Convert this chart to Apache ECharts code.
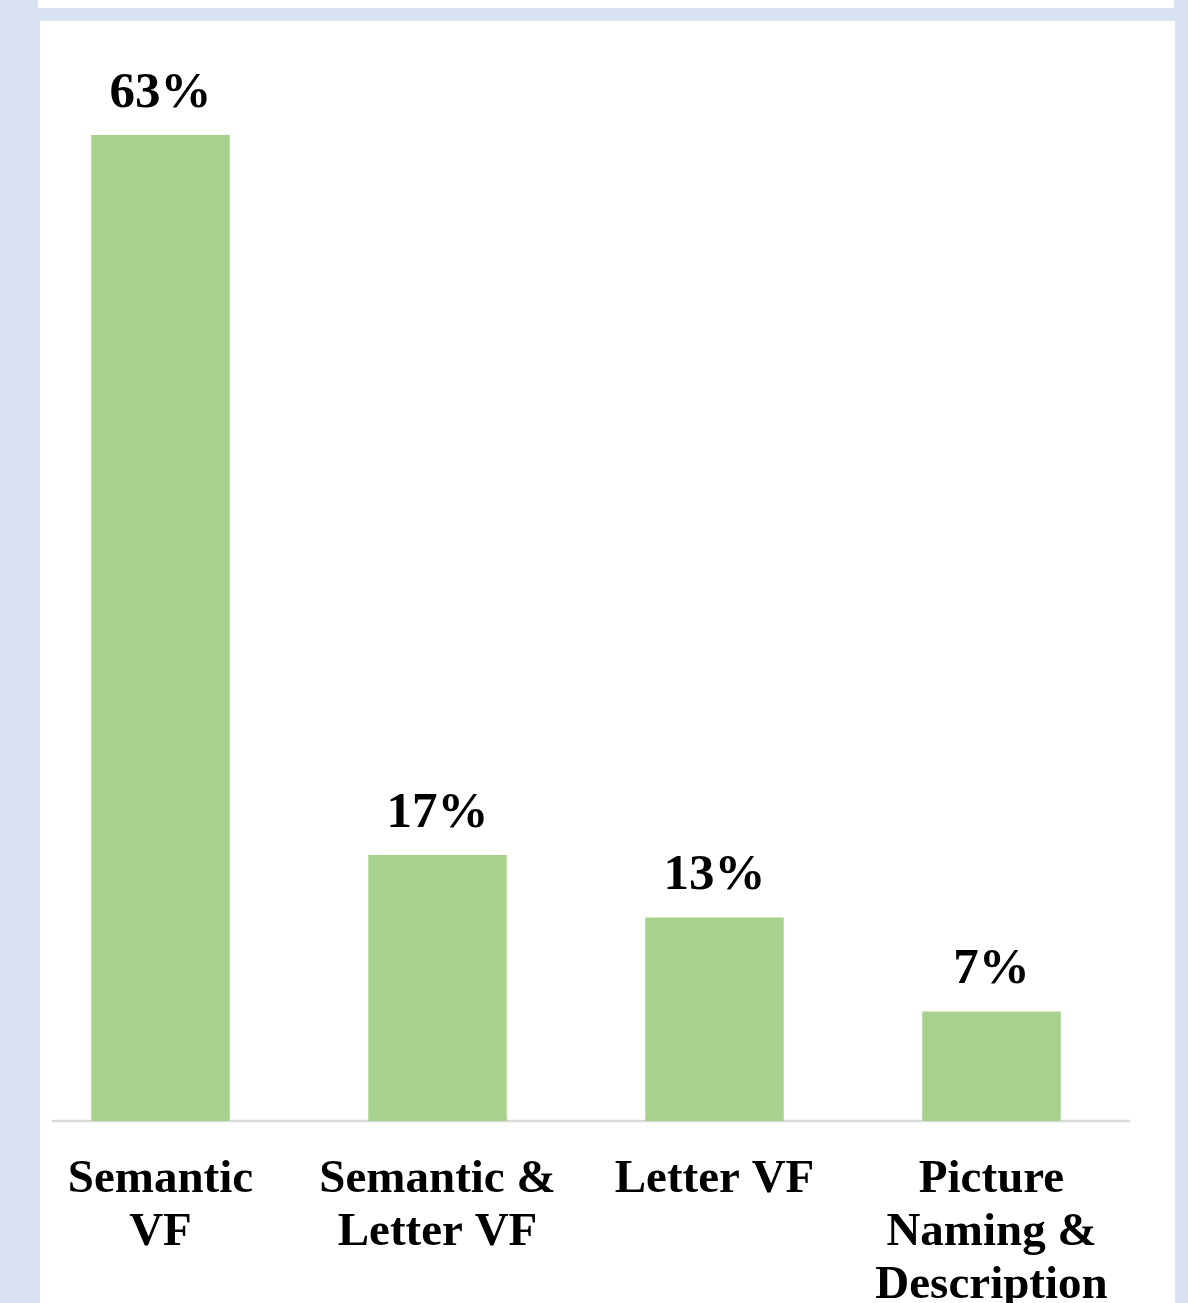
<!DOCTYPE html>
<html>
<head>
<meta charset="utf-8">
<script src="https://cdn.jsdelivr.net/npm/echarts@6/dist/echarts.min.js"></script>
<style>
  html, body { margin: 0; padding: 0; width: 1188px; height: 1303px; overflow: hidden; background: #dae3f3; }
  #strip { position: absolute; left: 38px; top: 0; width: 1136px; height: 8px; background: #ffffff; }
  #panel { position: absolute; left: 40px; top: 21px; width: 1135px; height: 1282px; background: #ffffff; }
  #chart { position: absolute; left: 0; top: 0; width: 1188px; height: 1303px; }
</style>
</head>
<body>
<div id="strip"></div>
<div id="panel"></div>
<div id="chart"></div>
<script>
const categories = ['Semantic\nVF', 'Semantic &\nLetter VF', 'Letter VF', 'Picture\nNaming &\nDescription'];
const values = [63, 17, 13, 7];

const chart = echarts.init(document.getElementById('chart'), null, { renderer: 'canvas' });
const serif = '"Liberation Serif", "Times New Roman", serif';
chart.setOption({
  backgroundColor: 'transparent',
  animation: false,
  grid: { left: 22, right: 58, top: 25.4, bottom: 182, containLabel: false, outerBoundsMode: 'none' },
  xAxis: {
    type: 'category',
    data: categories,
    axisLine: { show: false },
    axisTick: { show: false },
    axisLabel: {
      interval: 0,
      margin: 32,
      color: '#000000',
      fontFamily: serif,
      fontWeight: 'bold',
      fontSize: 47,
      lineHeight: 53
    }
  },
  yAxis: {
    type: 'value',
    min: 0,
    max: 70,
    show: false,
    splitLine: { show: false }
  },
  graphic: [{
    type: 'line',
    shape: { x1: 52, y1: 1121, x2: 1130, y2: 1121 },
    style: { stroke: '#d9d9d9', lineWidth: 2.5 },
    z: 0
  }],
  series: [{
    type: 'bar',
    data: values,
    barWidth: '50%',
    itemStyle: { color: '#a9d18e' },
    z: 2,
    label: {
      show: true,
      position: 'top',
      distance: 16,
      formatter: '{c}%',
      color: '#000000',
      fontFamily: serif,
      fontWeight: 'bold',
      fontSize: 51
    }
  }]
});
</script>
</body>
</html>
